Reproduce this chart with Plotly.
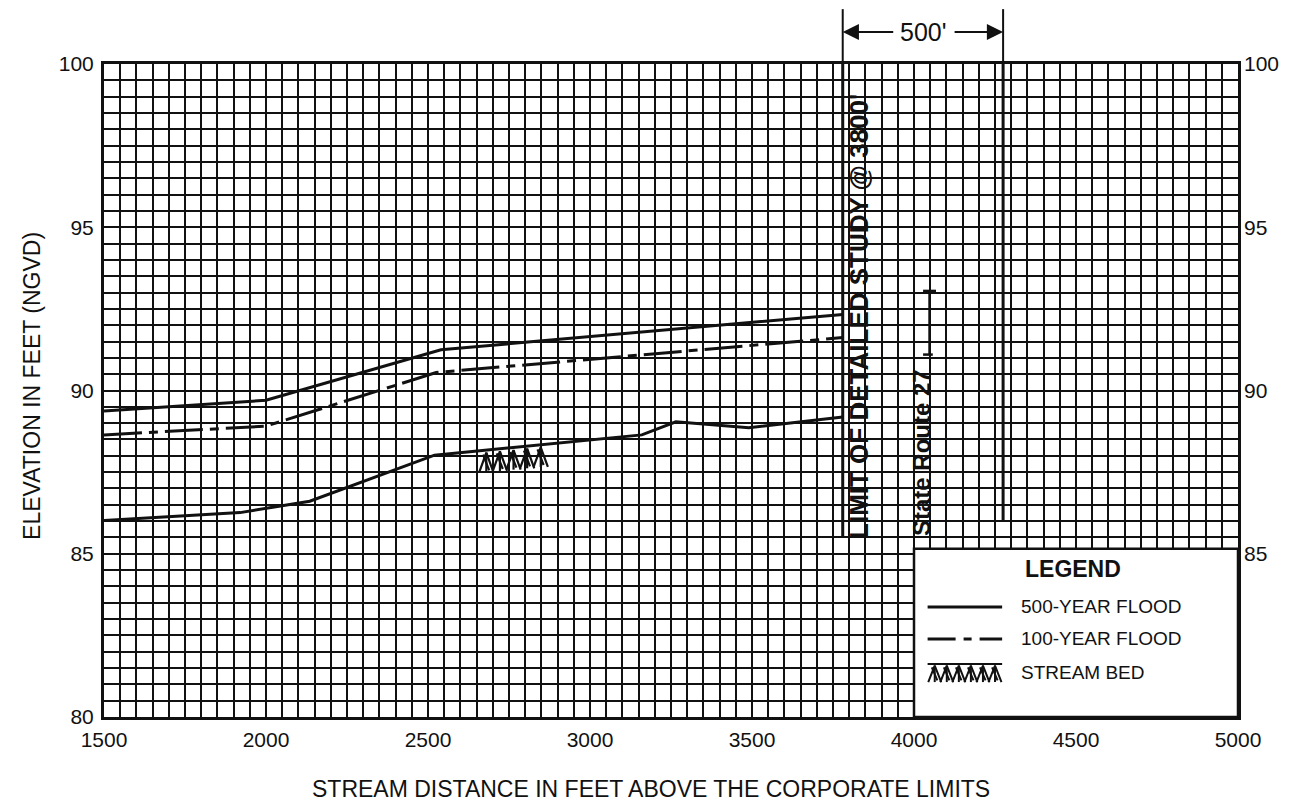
import numpy as np
import plotly.graph_objects as go

# ---------------- data ----------------
distance_500 = [1500, 2000, 2540, 3780]
elev_500 = [89.37, 89.70, 91.25, 92.33]

distance_100 = [1500, 2000, 2525, 3780]
elev_100 = [88.64, 88.91, 90.55, 91.62]

distance_bed = [1500, 1920, 2135, 2520, 3160, 3265, 3490, 3780]
elev_bed = [86.02, 86.26, 86.61, 88.02, 88.64, 89.04, 88.86, 89.19]

x_ticks = [1500, 2000, 2500, 3000, 3500, 4000, 4500, 5000]
y_ticks_left = [80, 85, 90, 95, 100]
y_ticks_right = [85, 90, 95, 100]

limit_of_study = 3780      # "LIMIT OF DETAILED STUDY @ 3800'"
limit_plus_500 = 4275      # end of the 500' dimension
route27_x = 4048           # State Route 27 marker
route27_top, route27_bottom = 93.05, 91.1
bed_symbol_centers = [2680, 2722, 2764, 2806, 2848]

legend_items = ["500-YEAR FLOOD", "100-YEAR FLOOD", "STREAM BED"]

FONT = "Liberation Sans, Arial, sans-serif"
BLACK = "#111111"

fig = go.Figure()

# ---------------- profiles ----------------
fig.add_trace(go.Scatter(x=distance_500, y=elev_500, mode="lines",
                         line=dict(color=BLACK, width=3), showlegend=False))
fig.add_trace(go.Scatter(x=distance_100, y=elev_100, mode="lines",
                         line=dict(color=BLACK, width=3, dash="38px,7px,9px,7px"),
                         showlegend=False))
fig.add_trace(go.Scatter(x=distance_bed, y=elev_bed, mode="lines",
                         line=dict(color=BLACK, width=3), showlegend=False))


def bed_glyph(xc, yt, w, h):
    """one stream-bed symbol unit hanging below a top point"""
    xs = [xc - w, xc, xc + w, None, xc - w * 0.45, xc + w * 0.4, None, xc, xc, None]
    ys = [yt - h, yt, yt - h, None, yt - h * 0.1, yt - h * 0.9, None, yt, yt - h, None]
    return xs, ys


# stream bed symbol under the bed line
hx, hy = [], []
for xc in bed_symbol_centers:
    yt = float(np.interp(xc, distance_bed, elev_bed)) - 0.08
    xs, ys = bed_glyph(xc, yt, 22, 0.6)
    hx += xs
    hy += ys
fig.add_trace(go.Scatter(x=hx, y=hy, mode="lines", line=dict(color=BLACK, width=2.2),
                         showlegend=False))

# ---------------- legend (drawn inside the plot) ----------------
leg_x0, leg_x1 = 4000, 5000
leg_y0, leg_y1 = 80, 85.15
line_x = [4042, 4272]
text_x = 4325
row_y = [83.37, 82.39, 81.35]

fig.add_shape(type="rect", x0=leg_x0, x1=leg_x1, y0=leg_y0, y1=leg_y1,
              xref="x", yref="y", layer="between",
              fillcolor="white", line=dict(color=BLACK, width=2.5))
fig.add_annotation(x=(leg_x0 + leg_x1) / 2 - 10, y=84.53, xref="x", yref="y",
                   text="<b>LEGEND</b>", showarrow=False,
                   font=dict(family=FONT, size=23, color=BLACK))
fig.add_trace(go.Scatter(x=line_x, y=[row_y[0]] * 2, mode="lines",
                         line=dict(color=BLACK, width=3), showlegend=False))
fig.add_trace(go.Scatter(x=line_x, y=[row_y[1]] * 2, mode="lines",
                         line=dict(color=BLACK, width=3, dash="28px,8px,8px,8px"),
                         showlegend=False))
# legend hatch
lhx, lhy = [line_x[0], line_x[1], None], [row_y[2] + 0.27, row_y[2] + 0.27, None]
for xc in np.linspace(line_x[0] + 22, line_x[1] - 22, 6):
    xs, ys = bed_glyph(xc, row_y[2] + 0.22, 20, 0.5)
    lhx += xs
    lhy += ys
fig.add_trace(go.Scatter(x=lhx, y=lhy, mode="lines", line=dict(color=BLACK, width=2),
                         showlegend=False))
for label, yy in zip(legend_items, row_y):
    fig.add_annotation(x=text_x, y=yy, xref="x", yref="y", text=label,
                       showarrow=False, xanchor="left",
                       font=dict(family=FONT, size=19, color=BLACK))

# ---------------- study limit & dimension ----------------
fig.add_shape(type="line", x0=limit_of_study, x1=limit_of_study, y0=85.5, y1=100,
              xref="x", yref="y", line=dict(color=BLACK, width=3), layer="above")
fig.add_shape(type="line", x0=limit_of_study, x1=limit_of_study, y0=1.0, y1=1.084,
              xref="x", yref="paper", line=dict(color=BLACK, width=2))
fig.add_shape(type="line", x0=limit_plus_500, x1=limit_plus_500, y0=86.0, y1=100,
              xref="x", yref="y", line=dict(color=BLACK, width=3), layer="above")
fig.add_shape(type="line", x0=limit_plus_500, x1=limit_plus_500, y0=1.0, y1=1.084,
              xref="x", yref="paper", line=dict(color=BLACK, width=2))
dim_y = 1.049
fig.add_annotation(x=limit_of_study, y=dim_y, xref="x", yref="paper", text="",
                   showarrow=True, ax=52, ay=0, axref="pixel", ayref="pixel",
                   arrowhead=2, arrowsize=1.8, arrowwidth=1.8, arrowcolor=BLACK)
fig.add_annotation(x=limit_plus_500, y=dim_y, xref="x", yref="paper", text="",
                   showarrow=True, ax=-50, ay=0, axref="pixel", ayref="pixel",
                   arrowhead=2, arrowsize=1.8, arrowwidth=1.8, arrowcolor=BLACK)
fig.add_annotation(x=(limit_of_study + limit_plus_500) / 2, y=dim_y, xref="x",
                   yref="paper", yanchor="middle", text="500'", showarrow=False,
                   font=dict(family=FONT, size=25, color=BLACK))

fig.add_annotation(x=limit_of_study + 50, y=92.28, xref="x", yref="y",
                   text="<b>LIMIT OF DETAILED STUDY @ 3800'</b>", textangle=-90,
                   showarrow=False, yanchor="middle", xanchor="center",
                   font=dict(family=FONT, size=26, color=BLACK))

# State Route 27
fig.add_annotation(x=route27_x - 25, y=88.1, xref="x", yref="y",
                   text="<b>State Route 27</b>", textangle=-90, showarrow=False,
                   yanchor="middle", xanchor="center",
                   font=dict(family=FONT, size=24, color=BLACK))
fig.add_shape(type="line", x0=route27_x, x1=route27_x, y0=route27_bottom, y1=route27_top,
              xref="x", yref="y", line=dict(color=BLACK, width=2.5))
fig.add_shape(type="line", x0=route27_x - 20, x1=route27_x + 20, y0=route27_top, y1=route27_top,
              xref="x", yref="y", line=dict(color=BLACK, width=2.5))
fig.add_shape(type="line", x0=route27_x - 20, x1=route27_x + 10, y0=route27_bottom, y1=route27_bottom,
              xref="x", yref="y", line=dict(color=BLACK, width=2.5))

# invisible trace for the right-hand axis
fig.add_trace(go.Scatter(x=[1500], y=[80], yaxis="y2", mode="markers",
                         marker=dict(opacity=0), showlegend=False, hoverinfo="skip"))

# ---------------- axis titles ----------------
fig.add_annotation(x=0.5, y=0, xref="paper", yref="paper", yshift=-72, xshift=-20,
                   yanchor="middle", xanchor="center",
                   text="STREAM DISTANCE IN FEET ABOVE THE CORPORATE LIMITS",
                   showarrow=False, font=dict(family=FONT, size=23, color=BLACK))
fig.add_annotation(x=0, y=0.507, xref="paper", yref="paper", xshift=-72,
                   yanchor="middle", xanchor="center",
                   text="ELEVATION IN FEET (NGVD)", textangle=-90,
                   showarrow=False, font=dict(family=FONT, size=23, color=BLACK))

grid_style = dict(gridcolor=BLACK, gridwidth=1.8)

fig.update_layout(
    width=1300, height=802,
    margin=dict(l=96, r=70, t=56, b=93),
    paper_bgcolor="white", plot_bgcolor="white",
    font=dict(family=FONT, size=20, color=BLACK),
    showlegend=False,
    xaxis=dict(range=[1500, 5000], tickvals=x_ticks, showgrid=True, **grid_style,
               minor=dict(dtick=50, tick0=1500, showgrid=True, **grid_style),
               showline=True, linecolor=BLACK, linewidth=3, mirror=True,
               zeroline=False, ticks="", ticklabelstandoff=2,
               tickfont=dict(family=FONT, size=21, color=BLACK)),
    yaxis=dict(range=[80, 100], tickvals=y_ticks_left, showgrid=True, **grid_style,
               minor=dict(dtick=0.5, tick0=80, showgrid=True, **grid_style),
               showline=True, linecolor=BLACK, linewidth=3, mirror=True,
               zeroline=False, ticks="", ticklabelstandoff=3,
               tickfont=dict(family=FONT, size=21, color=BLACK)),
    yaxis2=dict(range=[80, 100], tickvals=y_ticks_right, overlaying="y", side="right",
                showgrid=False, zeroline=False, showline=False, ticks="",
                ticklabelstandoff=5,
                tickfont=dict(family=FONT, size=21, color=BLACK)),
)

fig.write_html("out.html")
